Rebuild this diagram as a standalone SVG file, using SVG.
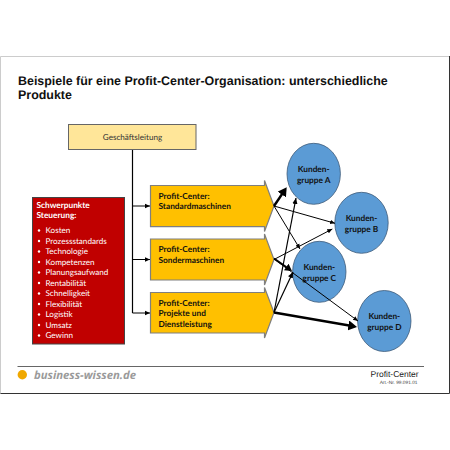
<svg xmlns="http://www.w3.org/2000/svg" width="450" height="450" viewBox="0 0 450 450">
<style>
text{font-family:"Lato","Open Sans","Liberation Sans",sans-serif;text-rendering:geometricPrecision}
.h{font-family:"Liberation Sans",Arial,sans-serif;font-weight:bold;font-size:12.45px;fill:#111}
.pc{fill:#ffc000;stroke:#7f7f7f;stroke-width:1.2}
.pt{font-size:8.3px;font-weight:bold;fill:#111}
.c{fill:#5b9bd5;stroke:#3d5a78;stroke-width:.8}
.ct{font-size:8.3px;font-weight:bold;fill:#111;text-anchor:middle}
.li{font-size:8.1px;fill:#fff}
.l{fill:none;stroke:#000}
</style>
<defs>
<marker id="a" markerWidth="6" markerHeight="6" refX="5" refY="3" orient="auto"><path d="M0 .8L5 3L0 5.200z" fill="#000"/></marker>
<marker id="b" markerWidth="4" markerHeight="4" refX="1.500" refY="2" orient="auto"><path d="M0 0L3.500 2L0 4z" fill="#000"/></marker>
</defs>
<rect width="450" height="450" fill="#fff"/>
<g id="frame"><path d="M449 393.500H.5V56.500H449" fill="none" stroke="#ccc" stroke-width="1"/><path d="M.5 393.500H449.500V56" fill="none" stroke="#333" stroke-width="1"/></g>
<text class="h" x="18" y="84.700">Beispiele für eine Profit-Center-Organisation: unterschiedliche</text>
<text class="h" x="18" y="98.500">Produkte</text>
<g id="connectors">
<path class="l" stroke-width="1.200" d="M132.500 149V313"/>
<path class="l" stroke-width="1" marker-end="url(#a)" d="M132.500 206H150"/>
<path class="l" stroke-width="1" marker-end="url(#a)" d="M132.500 259.500H150"/>
<path class="l" stroke-width="1" marker-end="url(#a)" d="M132.500 313H150"/>
</g>
<g id="geschaeftsleitung"><rect x="68.500" y="124.500" width="127.500" height="25" fill="#ffe699" stroke="#666" stroke-width="1"/><text x="132.500" y="139.500" font-size="8.100" text-anchor="middle" fill="#333">Geschäftsleitung</text></g>
<g id="schwerpunkte"><rect x="32.500" y="197.500" width="92" height="146.500" fill="#c00000" stroke="#444" stroke-width="1"/>
<text x="36.500" y="207.700" font-size="8.300" font-weight="bold" fill="#fff">Schwerpunkte</text>
<text x="36.500" y="218.200" font-size="8.300" font-weight="bold" fill="#fff">Steuerung:</text>
<text class="li" x="45.500" y="233.300">Kosten</text><text class="li" x="45.500" y="243.800">Prozessstandards</text><text class="li" x="45.500" y="254.300">Technologie</text><text class="li" x="45.500" y="264.800">Kompetenzen</text><text class="li" x="45.500" y="275.300">Planungsaufwand</text><text class="li" x="45.500" y="285.800">Rentabilität</text><text class="li" x="45.500" y="296.300">Schnelligkeit</text><text class="li" x="45.500" y="306.800">Flexibilität</text><text class="li" x="45.500" y="317.300">Logistik</text><text class="li" x="45.500" y="327.800">Umsatz</text><text class="li" x="45.500" y="338.300">Gewinn</text>
<g fill="#fff"><circle cx="39" cy="230.500" r="1.200"/><circle cx="39" cy="241" r="1.200"/><circle cx="39" cy="251.500" r="1.200"/><circle cx="39" cy="262" r="1.200"/><circle cx="39" cy="272.500" r="1.200"/><circle cx="39" cy="283" r="1.200"/><circle cx="39" cy="293.500" r="1.200"/><circle cx="39" cy="304" r="1.200"/><circle cx="39" cy="314.500" r="1.200"/><circle cx="39" cy="325" r="1.200"/><circle cx="39" cy="335.500" r="1.200"/></g></g>
<g id="pc1"><path class="pc" d="M150.500 185.500H264.500V180.500L274 206L264.500 231.500V226.700H150.500z"/><text class="pt" x="158.500" y="198.500">Profit-Center:</text><text class="pt" x="158.500" y="209.300">Standardmaschinen</text></g>
<g id="pc2"><path class="pc" d="M150.500 239H264.500V234L274 259.500L264.500 285V280H150.500z"/><text class="pt" x="158.500" y="252">Profit-Center:</text><text class="pt" x="158.500" y="262.800">Sondermaschinen</text></g>
<g id="pc3"><path class="pc" d="M150.500 292.500H264.500V287.500L274 312.500L264.500 338V333H150.500z"/><text class="pt" x="158.500" y="305.500">Profit-Center:</text><text class="pt" x="158.500" y="316">Projekte und</text><text class="pt" x="158.500" y="326.500">Dienstleistung</text></g>
<g id="kunde-a"><ellipse class="c" cx="313.700" cy="173.800" rx="26.700" ry="30.500"/><text class="ct" x="313.700" y="172.300">Kunden-</text><text class="ct" x="313.700" y="183">gruppe A</text></g>
<g id="kunde-b"><ellipse class="c" cx="361.500" cy="222.800" rx="26.700" ry="30.500"/><text class="ct" x="361.500" y="221">Kunden-</text><text class="ct" x="361.500" y="231.700">gruppe B</text></g>
<g id="kunde-c"><ellipse class="c" cx="319.300" cy="271.800" rx="26.700" ry="30.500"/><text class="ct" x="319.300" y="270">Kunden-</text><text class="ct" x="319.300" y="280.700">gruppe C</text></g>
<g id="kunde-d"><ellipse class="c" cx="384.300" cy="321" rx="26.700" ry="30.500"/><text class="ct" x="384.300" y="319">Kunden-</text><text class="ct" x="384.300" y="329.700">gruppe D</text></g>
<g id="connectors-2">
<path class="l" stroke-width="2.500" marker-end="url(#b)" d="M274 206L283.900 191.400"/>
<path class="l" stroke-width="1" marker-end="url(#a)" d="M274 206L335 223.300"/>
<path class="l" stroke-width="1" marker-end="url(#a)" d="M274 206L300 249"/>
<path class="l" stroke-width="1" marker-end="url(#a)" d="M274 259.500L332.300 229"/>
<path class="l" stroke-width="2" marker-end="url(#b)" d="M274 258.500L288.700 268.700"/>
<path class="l" stroke-width="1" marker-end="url(#a)" d="M274 259L358 321"/>
<path class="l" stroke-width="1.200" marker-end="url(#a)" d="M274 312.500L296 198"/>
<path class="l" stroke-width="1.200" marker-end="url(#a)" d="M274 312.500L293 272"/>
<path class="l" stroke-width="2.500" marker-end="url(#b)" d="M274 312.500L352.100 326.100"/>
</g>
<g id="footer"><path d="M17.500 366.500H424" stroke="#666" stroke-width="1"/><circle cx="22.300" cy="374.700" r="4.700" fill="#f0a800"/>
<text x="34" y="379.300" font-size="11.300" font-weight="bold" font-style="italic" fill="#9a9a9a" style="font-family:'Open Sans',sans-serif">business-wissen.de</text>
<text x="418.700" y="376.700" font-size="8.500" text-anchor="end" fill="#222" style="font-family:'Liberation Sans',sans-serif">Profit-Center</text>
<text x="417.500" y="383.800" font-size="4.800" text-anchor="end" fill="#444" style="font-family:'Liberation Sans',sans-serif">Art.-Nr. 99.091.01</text></g>
</svg>
